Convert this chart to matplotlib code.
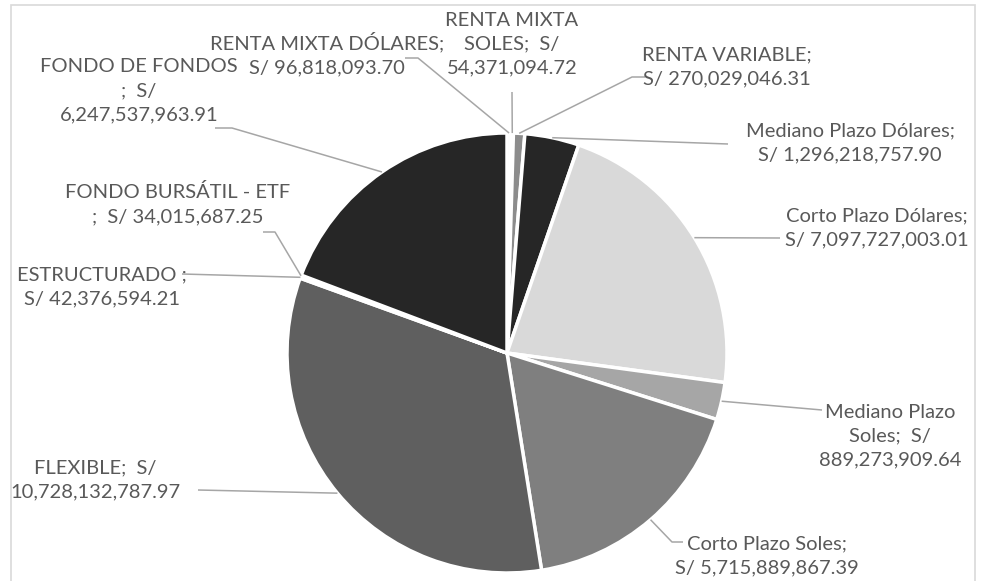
import numpy as np
import matplotlib
matplotlib.use('Agg')
import matplotlib.pyplot as plt
from matplotlib.patches import Rectangle

W, H = 986, 581

# data, clockwise from 12 o'clock
categories = ["RENTA MIXTA DÓLARES", "RENTA MIXTA SOLES", "RENTA VARIABLE",
              "Mediano Plazo Dólares", "Corto Plazo Dólares", "Mediano Plazo Soles",
              "Corto Plazo Soles", "FLEXIBLE", "ESTRUCTURADO", "FONDO BURSÁTIL - ETF",
              "FONDO DE FONDOS"]
values = [96818093.70, 54371094.72, 270029046.31,
          1296218757.90, 7097727003.01, 889273909.64,
          5715889867.39, 10728132787.97, 42376594.21, 34015687.25,
          6247537963.91]
colors = ["#f2f2f2", "#d9d9d9", "#8c8c8c",
          "#262626", "#d9d9d9", "#a6a6a6",
          "#7f7f7f", "#5f5f5f", "#bfbfbf", "#8c8c8c",
          "#262626"]

# how Excel wrapped each data label
label_fmt = ["RENTA MIXTA DÓLARES;\nS/ {v}", "RENTA MIXTA\nSOLES;  S/\n{v}", "RENTA VARIABLE;\nS/ {v}",
             "Mediano Plazo Dólares;\nS/ {v}", "Corto Plazo Dólares;\nS/ {v}", "Mediano Plazo\nSoles;  S/\n{v}",
             "Corto Plazo Soles;\nS/ {v}", "FLEXIBLE;  S/\n{v}", "ESTRUCTURADO ;\nS/ {v}",
             "FONDO BURSÁTIL - ETF\n;  S/ {v}", "FONDO DE FONDOS\n;  S/\n{v}"]

# label centre, leader end next to the label, optional elbow (image pixels)
label_xy = [(327, 51), (512, 41), (727, 64), (850, 140), (877, 225), (890, 433),
            (767, 553), (95, 477), (102, 284), (178, 201), (139, 88)]
leader_end = [(405, 58), (512, 92), (645, 77), (728, 144), (780, 238), (822, 410),
              (683, 542), (198, 490), (182, 274), (263, 232), (215, 128)]
leader_elbow = [(418, 58), None, (632, 77), None, None, None,
                (672, 542), None, None, (275, 232), (232, 128)]

CX, CY, R = 507, 353, 220
TXT = "#595959"
LINE = "#a6a6a6"

plt.rcParams['font.family'] = ['Lato', 'DejaVu Sans']

fig = plt.figure(figsize=(W / 100, H / 100), dpi=100)
ax = fig.add_axes([0, 0, 1, 1])

wedges, _ = ax.pie(values, colors=colors, startangle=90, counterclock=False,
                   center=(CX, H - CY), radius=R,
                   wedgeprops=dict(edgecolor="white", linewidth=2.5))
ax.set_xlim(0, W)
ax.set_ylim(0, H)
ax.set_aspect("equal")
ax.axis("off")

for w, fmt, (tx, ty), end, elbow, v in zip(wedges, label_fmt, label_xy,
                                           leader_end, leader_elbow, values):
    mid = np.deg2rad((w.theta1 + w.theta2) / 2)
    ax_pt = (CX + R * np.cos(mid), H - CY + R * np.sin(mid))
    pts = [ax_pt]
    if elbow is not None:
        pts.append((elbow[0], H - elbow[1]))
    pts.append((end[0], H - end[1]))
    xs, ys = zip(*pts)
    ax.plot(xs, ys, color=LINE, lw=1.1, solid_capstyle="butt", zorder=1)
    # va=center sits a few px high, nudge down
    ax.text(tx, H - ty - 3, fmt.format(v=f"{v:,.2f}"), ha="center", va="center",
            multialignment="center", fontsize=14.5, color=TXT, linespacing=1.5)

# chart area border
fig.patches.append(Rectangle((11 / W, -0.01), (975 - 11) / W, (H - 5) / H + 0.01,
                             transform=fig.transFigure, fill=False,
                             edgecolor="#d9d9d9", lw=1.2))

fig.savefig("out.png", dpi=100, facecolor="white")
